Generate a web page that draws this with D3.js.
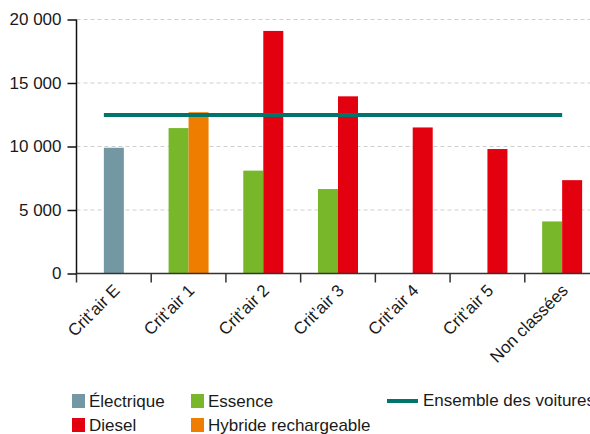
<!DOCTYPE html>
<html>
<head>
<meta charset="utf-8">
<script src="https://cdn.jsdelivr.net/npm/d3@7"></script>
<style>
  body { margin: 0; background: #fff; }
  svg { display: block; font-family: "Liberation Sans", Arial, sans-serif; }
</style>
</head>
<body>
<svg id="chart"></svg>
<script>
const categories = ["Crit’air E", "Crit’air 1", "Crit’air 2", "Crit’air 3", "Crit’air 4", "Crit’air 5", "Non classées"];
const electrique = [9900, null, null, null, null, null, null];
const essence = [null, 11450, 8100, 6650, null, null, 4100];
const diesel = [null, null, 19100, 13950, 11500, 9800, 7350];
const hybride = [null, 12700, null, null, null, null, null];
const ensemble = 12480;
const yTicks = [0, 5000, 10000, 15000, 20000];

const seriesNames = ["Électrique", "Essence", "Diesel", "Hybride rechargeable"];
const seriesValues = [electrique, essence, diesel, hybride];

// styles / layout kept apart from the data
const colors = {
  "Électrique": "#7498a3",
  "Essence": "#78b72a",
  "Diesel": "#e3000f",
  "Hybride rechargeable": "#ef7d00"
};
const slot = { "Électrique": -0.5, "Essence": -1, "Diesel": 0, "Hybride rechargeable": 0 };
const lineColor = "#00756b";
const fontSize = 17;

const width = 590, height = 434;
const margin = { top: 19.5, left: 76.5, bottom: 160.5 };
const plotBottom = height - margin.bottom;

const svg = d3.select("#chart").attr("width", width).attr("height", height);

const x = d3.scaleBand().domain(categories).range([margin.left, 599.5]).padding(0);
const y = d3.scaleLinear().domain([0, 20000]).range([plotBottom, margin.top]);
const barW = 20;

const locale = d3.formatLocale({ thousands: "\u00a0", grouping: [3], decimal: "," });
const fmt = locale.format(",d");

// grid
svg.append("g")
  .selectAll("line")
  .data(yTicks.filter(d => d > 0))
  .join("line")
  .attr("x1", margin.left).attr("x2", width)
  .attr("y1", d => y(d)).attr("y2", d => y(d))
  .attr("stroke", "#cfcfcf")
  .attr("stroke-width", 1)
  .attr("stroke-dasharray", "4,3");

// bars
const bars = [];
seriesNames.forEach((name, i) => {
  seriesValues[i].forEach((v, j) => {
    if (v != null) bars.push({ name, cat: categories[j], value: v });
  });
});

svg.append("g")
  .selectAll("rect")
  .data(bars)
  .join("rect")
  .attr("x", d => x(d.cat) + x.bandwidth() / 2 + slot[d.name] * barW)
  .attr("y", d => y(d.value))
  .attr("width", barW)
  .attr("height", d => plotBottom - y(d.value))
  .attr("fill", d => colors[d.name]);

// ensemble line
svg.append("line")
  .attr("x1", x(categories[0]) + x.bandwidth() / 2 - barW / 2)
  .attr("x2", x(categories[categories.length - 1]) + x.bandwidth() / 2)
  .attr("y1", y(ensemble)).attr("y2", y(ensemble))
  .attr("stroke", lineColor)
  .attr("stroke-width", 4);

// x axis
const xAxis = svg.append("g")
  .attr("transform", `translate(0,${plotBottom})`)
  .call(d3.axisBottom(x).tickSize(9).tickFormat(""));
xAxis.select(".domain").attr("stroke", "#333").attr("stroke-width", 1.5).attr("d", `M${margin.left},0H${width}`);
xAxis.selectAll(".tick line")
  .attr("stroke", "#333").attr("stroke-width", 1.5)
  .attr("transform", `translate(${-x.bandwidth() / 2},0)`);

const lx = d => x(d) + x.bandwidth() / 2 + 7;
const ly = plotBottom + 18;
svg.append("g")
  .selectAll("text")
  .data(categories)
  .join("text")
  .attr("x", lx)
  .attr("y", ly)
  .attr("transform", d => `rotate(-45,${lx(d)},${ly})`)
  .attr("text-anchor", "end")
  .attr("font-size", fontSize)
  .attr("fill", "#1a1a1a")
  .text(d => d);

// y axis
const yAxis = svg.append("g")
  .attr("transform", `translate(${margin.left},0)`)
  .call(d3.axisLeft(y).tickValues(yTicks).tickSize(9).tickPadding(6).tickFormat(fmt));
yAxis.select(".domain").attr("stroke", "#111").attr("stroke-width", 1.5).attr("d", `M0,${margin.top}V${plotBottom}`);
yAxis.selectAll(".tick line").attr("stroke", "#111").attr("stroke-width", 1.5);
yAxis.selectAll(".tick text")
  .attr("font-size", fontSize)
  .attr("font-family", "Liberation Sans, Arial, sans-serif")
  .attr("fill", "#1a1a1a");

// legend
const legendItems = [
  { name: "Électrique", col: 0, row: 0 },
  { name: "Essence", col: 1, row: 0 },
  { name: "Diesel", col: 0, row: 1 },
  { name: "Hybride rechargeable", col: 1, row: 1 }
];
const legendX = [72, 191], legendY = [394, 418];

const legend = svg.append("g");
legend.selectAll("rect")
  .data(legendItems)
  .join("rect")
  .attr("x", d => legendX[d.col])
  .attr("y", d => legendY[d.row])
  .attr("width", 13).attr("height", 14)
  .attr("fill", d => colors[d.name]);
legend.selectAll("text")
  .data(legendItems)
  .join("text")
  .attr("x", d => legendX[d.col] + 17)
  .attr("y", d => legendY[d.row] + 13)
  .attr("font-size", fontSize)
  .attr("fill", "#1a1a1a")
  .text(d => d.name);

legend.append("line")
  .attr("x1", 387).attr("x2", 418)
  .attr("y1", 401).attr("y2", 401)
  .attr("stroke", lineColor).attr("stroke-width", 4);
legend.append("text")
  .attr("x", 423).attr("y", 406)
  .attr("font-size", fontSize)
  .attr("fill", "#1a1a1a")
  .text("Ensemble des voitures");
</script>
</body>
</html>
